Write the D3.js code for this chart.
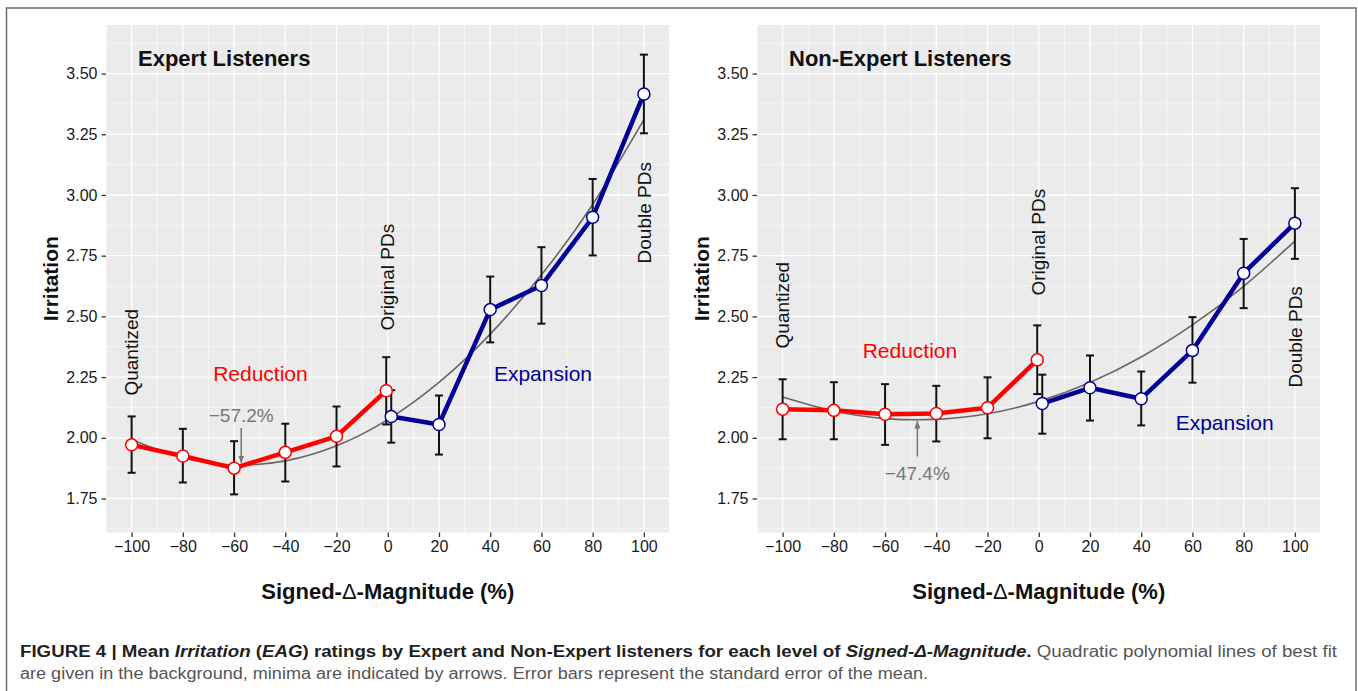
<!DOCTYPE html>
<html>
<head>
<meta charset="utf-8">
<script src="https://cdn.jsdelivr.net/npm/d3@7"></script>
<style>
  body { margin: 0; background: #fff; }
  svg text { font-family: "Liberation Sans", Arial, Helvetica, sans-serif; white-space: pre; }
</style>
</head>
<body>
<svg id="fig" width="1358" height="691"></svg>
<script>
// x levels of Signed-Delta-Magnitude (%)
const xLevels = [-100, -80, -60, -40, -20, 0, 20, 40, 60, 80, 100];
const yTicks = [1.75, 2.00, 2.25, 2.50, 2.75, 3.00, 3.25, 3.50];
const reductionX = [-100, -80, -60, -40, -20, 0];
const expansionX = [0, 20, 40, 60, 80, 100];

// Expert listeners
const expertRedMean  = [1.971, 1.925, 1.875, 1.940, 2.006, 2.194];
const expertRedLow   = [1.856, 1.816, 1.767, 1.820, 1.882, 2.055];
const expertRedHigh  = [2.088, 2.037, 1.986, 2.058, 2.129, 2.332];
const expertBlueMean = [2.088, 2.055, 2.528, 2.627, 2.908, 3.416];
const expertBlueLow  = [1.980, 1.931, 2.393, 2.470, 2.751, 3.254];
const expertBlueHigh = [2.196, 2.174, 2.664, 2.785, 3.066, 3.578];
const expertFit      = [1.992, 1.918, 1.888, 1.905, 1.967, 2.075, 2.228, 2.427, 2.671, 2.961, 3.310];

// Non-expert listeners
const nonExpRedMean  = [2.118, 2.113, 2.097, 2.100, 2.124, 2.321];
const nonExpRedLow   = [1.994, 1.994, 1.971, 1.985, 1.998, 2.180];
const nonExpRedHigh  = [2.241, 2.229, 2.221, 2.214, 2.249, 2.463];
const nonExpBlueMean = [2.141, 2.206, 2.161, 2.360, 2.678, 2.884];
const nonExpBlueLow  = [2.017, 2.071, 2.051, 2.227, 2.534, 2.737];
const nonExpBlueHigh = [2.260, 2.339, 2.273, 2.497, 2.819, 3.028];
const nonExpFit      = [2.168, 2.110, 2.079, 2.076, 2.099, 2.150, 2.228, 2.333, 2.465, 2.624, 2.810];

const expertMin = -57.2;
const nonExpMin = -47.4;

const RED = "#ff0000", BLUE = "#000099";

const svg = d3.select("#fig");

// outer frame
svg.append("rect")
  .attr("x", 6.5).attr("y", 8).attr("width", 1349.5).attr("height", 700)
  .attr("fill", "none").attr("stroke", "#6d6d6d").attr("stroke-width", 1.5);

const zip = (xs, m, lo, hi) => xs.map((x, i) => ({ x: x, y: m[i], lo: lo[i], hi: hi[i] }));

const panels = [
  {
    left: 106, title: "Expert Listeners",
    red: zip(reductionX, expertRedMean, expertRedLow, expertRedHigh),
    blue: zip(expansionX, expertBlueMean, expertBlueLow, expertBlueHigh),
    fit: expertFit, min: expertMin,
    labels: [
      { t: "Quantized", x: -100, y: 2.174, rot: true },
      { t: "Original PDs", x: 0, y: 2.442, rot: true },
      { t: "Double PDs", x: 100, y: 2.718, rot: true },
      { t: "Reduction", x: -49.7, y: 2.265, c: RED },
      { t: "Expansion", x: 60.6, y: 2.265, c: BLUE },
      { t: "\u221257.2%", x: -57.2, y: 2.092, c: "#777", small: true }
    ],
    arrow: { from: 2.040, to: 1.896 }
  },
  {
    left: 757, title: "Non-Expert Listeners",
    red: zip(reductionX, nonExpRedMean, nonExpRedLow, nonExpRedHigh),
    blue: zip(expansionX, nonExpBlueMean, nonExpBlueLow, nonExpBlueHigh),
    fit: nonExpFit, min: nonExpMin,
    labels: [
      { t: "Quantized", x: -100, y: 2.368, rot: true },
      { t: "Original PDs", x: 0, y: 2.586, rot: true },
      { t: "Double PDs", x: 100, y: 2.207, rot: true },
      { t: "Reduction", x: -50.3, y: 2.360, c: RED },
      { t: "Expansion", x: 72.6, y: 2.063, c: BLUE },
      { t: "\u221247.4%", x: -47.4, y: 1.853, c: "#777", small: true }
    ],
    arrow: { from: 1.923, to: 2.069 }
  }
];

const W = 563.5, plotTop = 25, plotBottom = 532.5;

svg.append("defs").append("marker")
  .attr("id", "ah").attr("viewBox", "0 0 10 10").attr("refX", 10).attr("refY", 5)
  .attr("markerWidth", 5).attr("markerHeight", 5).attr("orient", "auto")
  .append("path").attr("d", "M0,1L10,5L0,9Z").attr("fill", "#777");

panels.forEach(p => {
  const x = d3.scaleLinear().domain([-110, 110]).range([p.left, p.left + W]);
  const y = d3.scaleLinear().domain([1.61, 3.70]).range([plotBottom, plotTop]);
  const g = svg.append("g");

  g.append("rect").attr("x", p.left).attr("y", plotTop)
    .attr("width", W).attr("height", plotBottom - plotTop).attr("fill", "#ebebeb");

  // grid
  const xMinor = d3.range(-110, 111, 20);
  const yMinor = d3.range(1.625, 3.70, 0.25);
  g.selectAll(".vm").data(xMinor).enter().append("line")
    .attr("x1", d => x(d)).attr("x2", d => x(d)).attr("y1", plotTop).attr("y2", plotBottom)
    .attr("stroke", "#fff").attr("stroke-width", 0.6);
  g.selectAll(".hm").data(yMinor).enter().append("line")
    .attr("x1", p.left).attr("x2", p.left + W).attr("y1", d => y(d)).attr("y2", d => y(d))
    .attr("stroke", "#fff").attr("stroke-width", 0.6);
  g.selectAll(".vM").data(xLevels).enter().append("line")
    .attr("x1", d => x(d)).attr("x2", d => x(d)).attr("y1", plotTop).attr("y2", plotBottom)
    .attr("stroke", "#fff").attr("stroke-width", 1.3);
  g.selectAll(".hM").data(yTicks).enter().append("line")
    .attr("x1", p.left).attr("x2", p.left + W).attr("y1", d => y(d)).attr("y2", d => y(d))
    .attr("stroke", "#fff").attr("stroke-width", 1.3);

  // axes
  const ax = g.append("g").attr("transform", "translate(0," + plotBottom + ")")
    .call(d3.axisBottom(x).tickValues(xLevels).tickSize(4.5).tickPadding(4).tickFormat(d3.format("d")));
  const ay = g.append("g").attr("transform", "translate(" + p.left + ",0)")
    .call(d3.axisLeft(y).tickValues(yTicks).tickSize(4.5).tickPadding(4).tickFormat(d3.format(".2f")));
  [ax, ay].forEach(a => {
    a.select(".domain").remove();
    a.selectAll("line").attr("stroke", "#333").attr("stroke-width", 1.3);
    a.selectAll("text").attr("font-size", 16).attr("fill", "#1a1a1a")
      .attr("font-family", "Liberation Sans, Arial, sans-serif");
  });

  // axis titles
  const cx = p.left + W / 2;
  const xt = g.append("text").attr("x", cx).attr("y", 599).attr("text-anchor", "middle")
    .attr("font-size", 22).attr("font-weight", "bold").attr("fill", "#111");
  xt.append("tspan").text("Signed-");
  xt.append("tspan").attr("font-weight", "normal").text("\u0394");
  xt.append("tspan").text("-Magnitude (%)");
  g.append("text").attr("transform", "translate(" + (p.left - 55) + "," + ((plotTop + plotBottom) / 2) + ") rotate(-90)")
    .attr("dy", "0.35em").attr("text-anchor", "middle")
    .attr("font-size", 21).attr("font-weight", "bold").attr("fill", "#111").text("Irritation");

  // panel title
  g.append("text").attr("x", p.left + 32).attr("y", 66)
    .attr("font-size", 22).attr("font-weight", "bold").attr("fill", "#111").text(p.title);

  // fit curve
  g.append("path").datum(xLevels.map((v, i) => [v, p.fit[i]]))
    .attr("d", d3.line().x(d => x(d[0])).y(d => y(d[1])).curve(d3.curveNatural))
    .attr("fill", "none").attr("stroke", "#666").attr("stroke-width", 1.6);

  // minimum arrow
  g.append("line").attr("x1", x(p.min)).attr("x2", x(p.min))
    .attr("y1", y(p.arrow.from)).attr("y2", y(p.arrow.to))
    .attr("stroke", "#777").attr("stroke-width", 1.5).attr("marker-end", "url(#ah)");

  const px = (d, side) => x(d.x) + (d.x === 0 ? (side === "red" ? -1.5 : 3.5) : 0);

  [["red", p.red, RED], ["blue", p.blue, BLUE]].forEach(([side, data, col]) => {
    const eb = g.append("g");
    data.forEach(d => {
      const xx = px(d, side);
      eb.append("line").attr("x1", xx).attr("x2", xx).attr("y1", y(d.lo)).attr("y2", y(d.hi));
      eb.append("line").attr("x1", xx - 4).attr("x2", xx + 4).attr("y1", y(d.lo)).attr("y2", y(d.lo));
      eb.append("line").attr("x1", xx - 4).attr("x2", xx + 4).attr("y1", y(d.hi)).attr("y2", y(d.hi));
    });
    eb.selectAll("line").attr("stroke", "#111").attr("stroke-width", 2);
  });

  [["red", p.red, RED], ["blue", p.blue, BLUE]].forEach(([side, data, col]) => {
    g.append("path").datum(data)
      .attr("d", d3.line().x(d => px(d, side)).y(d => y(d.y)))
      .attr("fill", "none").attr("stroke", col).attr("stroke-width", 4.5).attr("stroke-linejoin", "round");
  });
  [["red", p.red, RED], ["blue", p.blue, BLUE]].forEach(([side, data, col]) => {
    g.selectAll(".pt-" + side).data(data).enter().append("circle")
      .attr("cx", d => px(d, side)).attr("cy", d => y(d.y)).attr("r", 6)
      .attr("fill", "#fff").attr("stroke", col).attr("stroke-width", 1.5);
  });

  // labels
  p.labels.forEach(l => {
    if (l.rot) {
      g.append("text").attr("transform", "translate(" + x(l.x) + "," + y(l.y) + ") rotate(-90)")
        .attr("dy", "0.35em").attr("font-size", 19).attr("fill", "#111").text(l.t);
    } else {
      g.append("text").attr("x", x(l.x)).attr("y", y(l.y)).attr("dy", "0.35em")
        .attr("text-anchor", "middle").attr("font-size", l.small ? 19 : 21)
        .attr("fill", l.c).text(l.t);
    }
  });
});

// caption
const cap1 = svg.append("text").attr("x", 20).attr("y", 657).attr("font-size", 16)
  .attr("textLength", 1317).attr("lengthAdjust", "spacingAndGlyphs");
const b = "bold";
[["FIGURE 4 | Mean ", b, null], ["Irritation", b, "italic"], [" (", b, null], ["EAG", b, "italic"],
 [") ratings by Expert and Non-Expert listeners for each level of ", b, null],
 ["Signed-\u0394-Magnitude", b, "italic"], [".", b, null],
 [" Quadratic polynomial lines of best fit", "normal", null]].forEach(([t, w, s]) => {
  cap1.append("tspan").attr("font-weight", w).attr("font-style", s || "normal")
    .attr("fill", w === b ? "#231f20" : "#555").text(t);
});
svg.append("text").attr("x", 20).attr("y", 679).attr("font-size", 16).attr("fill", "#555")
  .attr("textLength", 908).attr("lengthAdjust", "spacingAndGlyphs")
  .text("are given in the background, minima are indicated by arrows. Error bars represent the standard error of the mean.");
</script>
</body>
</html>
